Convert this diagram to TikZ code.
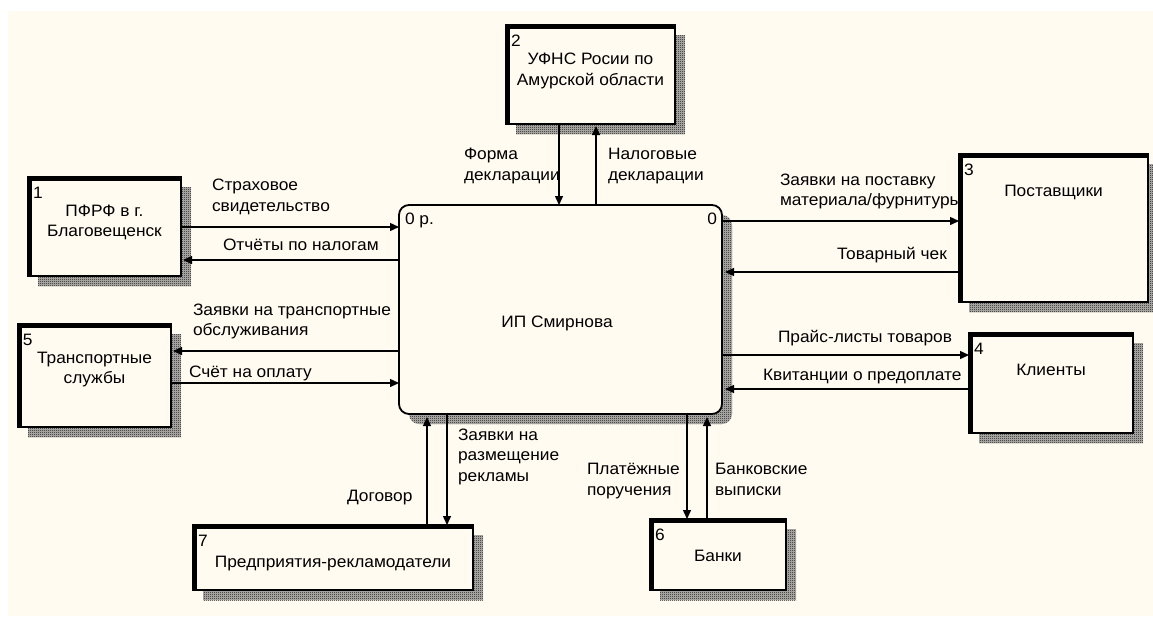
\documentclass[tikz,border=0pt]{standalone}
\usepackage{fontspec}
\setmainfont[FakeStretch=1.05]{Liberation Sans}
\usetikzlibrary{arrows.meta,patterns,calc}

\definecolor{paper}{RGB}{255,251,240}
\definecolor{hatch}{RGB}{20,20,20}
\definecolor{hatchbase}{RGB}{185,183,178}

% fine checkerboard used for the drop shadows
\pgfdeclarepatternformonly{checker}{\pgfqpoint{0pt}{0pt}}{\pgfqpoint{2pt}{2pt}}{\pgfqpoint{2pt}{2pt}}{%
  \pgfpathrectangle{\pgfqpoint{0pt}{0pt}}{\pgfqpoint{1pt}{1pt}}%
  \pgfpathrectangle{\pgfqpoint{1pt}{1pt}}{\pgfqpoint{1pt}{1pt}}%
  \pgfusepath{fill}}

\pgfdeclarelayer{paperlayer}
\pgfdeclarelayer{shadelayer}
\pgfsetlayers{paperlayer,shadelayer,main}

\tikzset{
  txt/.style={font=\fontsize{16.5}{20.5}\selectfont, inner sep=0pt, outer sep=0pt},
  lbl/.style={txt, align=left, anchor=north west, execute at begin node=\strut},
  etext/.style={txt, align=center, anchor=north, execute at begin node=\strut},
  num/.style={txt, anchor=north west, execute at begin node=\strut},
  entity/.style={draw=black, line width=1.8pt, fill=paper, anchor=north west,
    inner sep=0pt, outer sep=0pt},
  process/.style={draw=black, line width=1.8pt, fill=paper, anchor=north west,
    rounded corners=10pt, inner sep=0pt, outer sep=0pt},
  heavy/.style={line width=5pt, line join=miter},
  shadowfill/.style={fill=hatchbase, postaction={pattern=checker, pattern color=hatch}},
  flow/.style={draw=black, line width=1.4pt, -{Triangle[length=9pt,width=8pt]}},
}

\begin{document}
\begin{tikzpicture}[x=1pt,y=-1pt]
\useasboundingbox (0,0) rectangle (1153,616);
\begin{pgfonlayer}{paperlayer}
  \fill[white] (0,0) rectangle (1153,616);
  \fill[paper] (8,11) rectangle (1153,616);
\end{pgfonlayer}

% flow labels (drawn first so that entity borders lie over them)
\node[lbl] (l1)  at (212,179)   {Страховое\\свидетельство};
\node[lbl] (l2)  at (223,236.5) {Отчёты по налогам};
\node[lbl] (l3)  at (193,303.5) {Заявки на транспортные\\обслуживания};
\node[lbl] (l4)  at (189,363.5) {Счёт на оплату};
\node[lbl] (l5)  at (464,148.5) {Форма\\декларации};
\node[lbl] (l6)  at (608,148.5) {Налоговые\\декларации};
\node[lbl] (l7)  at (780,173.5) {Заявки на поставку\\материала/фурнитуры};
\node[lbl] (l8)  at (837,245.5) {Товарный чек};
\node[lbl] (l9)  at (778,328.5) {Прайс-листы товаров};
\node[lbl] (l10) at (763,366)   {Квитанции о предоплате};
\node[lbl] (l11) at (347,487)   {Договор};
\node[lbl] (l12) at (458,428.5) {Заявки на\\размещение\\рекламы};
\node[lbl] (l13) at (587,463.5) {Платёжные\\поручения};
\node[lbl] (l14) at (715,463.5) {Банковские\\выписки};

% central process
\node[process, minimum width=323pt, minimum height=209pt] (c) at (399,205) {};
\node[num] (cn) at (405,210.5) {0 р.};
\node[txt, anchor=north east, execute at begin node=\strut] (cr) at (717,210.5) {0};
\node[txt] (ct) at (557,323) {ИП Смирнова};

% external entities
\node[entity, minimum width=153pt, minimum height=99pt]  (e1) at (28,177) {};
\node[entity, minimum width=169pt, minimum height=99pt]  (e2) at (506,25) {};
\node[entity, minimum width=189pt, minimum height=148pt] (e3) at (959,154) {};
\node[entity, minimum width=164pt, minimum height=100pt] (e4) at (969,333) {};
\node[entity, minimum width=153pt, minimum height=103pt] (e5) at (18,324) {};
\node[entity, minimum width=136pt, minimum height=71pt]  (e6) at (650,519) {};
\node[entity, minimum width=280pt, minimum height=65pt]  (e7) at (193,525) {};

% heavy left and top edges of the entities
\foreach \n in {e1,e2,e3,e4,e5,e6,e7}
  \draw[heavy] ([shift={(1.5,0)}]\n.south west) -- ([shift={(1.5,1.5)}]\n.north west)
    -- ([shift={(0,1.5)}]\n.north east);

% drop shadows
\begin{pgfonlayer}{shadelayer}
  \foreach \n in {e1,e2,e3,e4,e5,e6,e7}
    \path[shadowfill] ([shift={(10,10)}]\n.north west) rectangle ([shift={(10,10)}]\n.south east);
  \path[shadowfill, rounded corners=10pt] ([shift={(10,10)}]c.north west)
    rectangle ([shift={(10,10)}]c.south east);
\end{pgfonlayer}

% entity numbers and names
\node[num] (n1) at ([shift={(5,7)}]e1.north west) {1};
\node[num] (n2) at ([shift={(5,7)}]e2.north west) {2};
\node[num] (n3) at ([shift={(5,7)}]e3.north west) {3};
\node[num] (n4) at ([shift={(5,7)}]e4.north west) {4};
\node[num] (n5) at ([shift={(5,7)}]e5.north west) {5};
\node[num] (n6) at ([shift={(5,7)}]e6.north west) {6};
\node[num] (n7) at ([shift={(5,7)}]e7.north west) {7};

\node[etext] (t1) at ([shift={(0,28)}]e1.north) {ПФРФ в г.\\Благовещенск};
\node[etext] (t2) at ([shift={(0,28)}]e2.north) {УФНС Росии по\\Амурской области};
\node[etext] (t3) at ([shift={(0,28)}]e3.north) {Поставщики};
\node[etext] (t4) at ([shift={(0,28)}]e4.north) {Клиенты};
\node[etext] (t5) at ([shift={(0,28)}]e5.north) {Транспортные\\службы};
\node[etext] (t6) at ([shift={(0,28)}]e6.north) {Банки};
\node[etext] (t7) at ([shift={(0,28)}]e7.north) {Предприятия-рекламодатели};

% data flows
\draw[flow] (e1.east |- 0,227) -- (c.west |- 0,227);
\draw[flow] (c.west |- 0,260) -- ($(e1.east |- 0,260)+(2,0)$);
\draw[flow] (c.west |- 0,351) -- ($(e5.east |- 0,351)+(2,0)$);
\draw[flow] (e5.east |- 0,383) -- (c.west |- 0,383);

\draw[flow] (e2.south -| 559,0) -- (c.north -| 559,0);
\draw[flow] (c.north -| 596,0) -- ($(e2.south -| 596,0)+(0,2)$);

\draw[flow] (c.east |- 0,221) -- (e3.west |- 0,221);
\draw[flow] (e3.west |- 0,272) -- ($(c.east |- 0,272)+(3,0)$);
\draw[flow] (c.east |- 0,355) -- (e4.west |- 0,355);
\draw[flow] (e4.west |- 0,389) -- ($(c.east |- 0,389)+(3,0)$);

\draw[flow] (e7.north -| 427,0) -- ($(c.south -| 427,0)+(0,3)$);
\draw[flow] (c.south -| 447,0) -- (e7.north -| 447,0);
\draw[flow] (c.south -| 687,0) -- (e6.north -| 687,0);
\draw[flow] (e6.north -| 707,0) -- ($(c.south -| 707,0)+(0,3)$);
\end{tikzpicture}
\end{document}
